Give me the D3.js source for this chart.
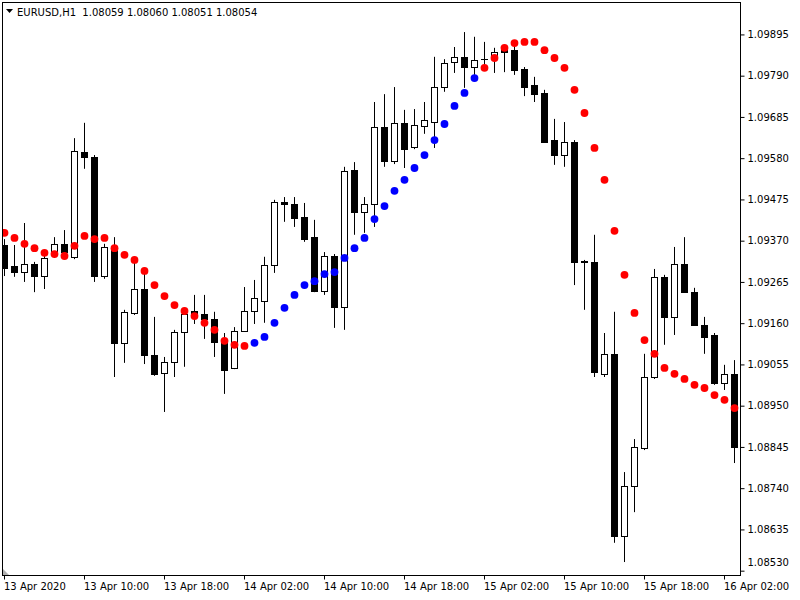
<!DOCTYPE html>
<html><head><meta charset="utf-8">
<script src="https://cdn.jsdelivr.net/npm/d3@7/dist/d3.min.js"></script>
<style>
body{margin:0;background:#fff}
svg{display:block}
text{font-family:"DejaVu Sans",sans-serif;font-size:10px;fill:#000}
</style>
</head><body>
<svg id="chart" width="800" height="600"></svg>
<script>
const title = "EURUSD,H1  1.08059 1.08060 1.08051 1.08054";

const opens = [
1.09359,1.09306,1.09290,1.09311,1.09280,1.09344,1.09362,1.09329,1.09596,1.09583,
1.09280,1.09351,1.09110,1.09186,1.09247,1.09079,1.09033,1.09061,1.09138,1.09191,
1.09183,1.09171,1.09112,1.09046,1.09140,1.09191,1.09217,1.09308,1.09469,1.09463,
1.09430,1.09379,1.09242,1.09331,1.09201,1.09550,1.09443,1.09463,1.09659,1.09573,
1.09670,1.09609,1.09662,1.09672,1.09761,1.09825,1.09838,1.09812,1.09832,1.09843,
1.09855,1.09855,1.09807,1.09766,1.09746,1.09626,1.09588,1.09621,1.09318,1.09316,
1.09031,1.09082,1.08618,1.08746,1.08842,1.09023,1.09278,1.09176,1.09311,1.09239,
1.09155,1.09130,1.09008,1.09031];

const highs = [
1.09374,1.09359,1.09415,1.09316,1.09339,1.09379,1.09397,1.09631,1.09670,1.09588,
1.09362,1.09379,1.09194,1.09329,1.09288,1.09176,1.09074,1.09143,1.09196,1.09232,
1.09232,1.09189,1.09135,1.09150,1.09252,1.09270,1.09329,1.09474,1.09481,1.09481,
1.09466,1.09423,1.09341,1.09336,1.09558,1.09570,1.09481,1.09723,1.09743,1.09761,
1.09703,1.09705,1.09723,1.09838,1.09832,1.09863,1.09901,1.09889,1.09876,1.09861,
1.09868,1.09868,1.09812,1.09787,1.09754,1.09680,1.09672,1.09626,1.09321,1.09385,
1.09135,1.09189,1.08781,1.08865,1.09082,1.09298,1.09283,1.09354,1.09379,1.09250,
1.09176,1.09135,1.09054,1.09066];

const lows = [
1.09280,1.09278,1.09265,1.09239,1.09247,1.09326,1.09329,1.09323,1.09553,1.09265,
1.09273,1.09023,1.09059,1.09181,1.09056,1.09026,1.08934,1.09023,1.09049,1.09158,
1.09120,1.09074,1.08980,1.09043,1.09138,1.09158,1.09161,1.09288,1.09418,1.09405,
1.09367,1.09239,1.09232,1.09148,1.09143,1.09385,1.09390,1.09405,1.09558,1.09565,
1.09555,1.09603,1.09642,1.09606,1.09749,1.09797,1.09759,1.09792,1.09817,1.09797,
1.09799,1.09792,1.09738,1.09723,1.09619,1.09563,1.09558,1.09257,1.09194,1.09023,
1.09023,1.08601,1.08552,1.08679,1.08837,1.09018,1.09105,1.09130,1.09237,1.09153,
1.09082,1.09003,1.08990,1.08804];

const closes = [
1.09301,1.09290,1.09311,1.09280,1.09326,1.09362,1.09341,1.09598,1.09583,1.09280,
1.09354,1.09110,1.09189,1.09247,1.09079,1.09031,1.09061,1.09138,1.09183,1.09181,
1.09171,1.09112,1.09041,1.09140,1.09191,1.09224,1.09308,1.09469,1.09463,1.09428,
1.09374,1.09242,1.09331,1.09201,1.09547,1.09443,1.09463,1.09659,1.09573,1.09670,
1.09603,1.09665,1.09677,1.09761,1.09822,1.09838,1.09812,1.09830,1.09832,1.09850,
1.09850,1.09805,1.09761,1.09743,1.09621,1.09588,1.09621,1.09316,1.09316,1.09036,
1.09082,1.08618,1.08746,1.08845,1.09023,1.09278,1.09176,1.09311,1.09239,1.09155,
1.09125,1.09008,1.09031,1.08845];

const dotValues = [
1.09390,1.09377,1.09362,1.09351,1.09339,1.09336,1.09331,1.09357,1.09382,1.09374,
1.09377,1.09351,1.09334,1.09321,1.09293,1.09257,1.09229,1.09206,1.09191,1.09178,
1.09161,1.09143,1.09115,1.09105,1.09102,1.09110,1.09125,1.09161,1.09199,1.09232,
1.09257,1.09267,1.09285,1.09290,1.09326,1.09351,1.09377,1.09425,1.09458,1.09497,
1.09525,1.09555,1.09588,1.09626,1.09667,1.09713,1.09746,1.09784,1.09810,1.09835,
1.09861,1.09873,1.09876,1.09876,1.09855,1.09835,1.09810,1.09754,1.09695,1.09606,
1.09525,1.09395,1.09283,1.09186,1.09117,1.09082,1.09046,1.09031,1.09018,1.09003,
1.08995,1.08977,1.08965,1.08944];

const dotTrend = [
"R","R","R","R","R","R","R","R","R","R","R","R","R","R","R","R","R","R","R","R","R","R","R","R","R",
"B","B","B","B","B","B","B","B","B","B","B","B","B","B","B","B","B","B","B","B","B","B","B",
"R","R","R","R","R","R","R","R","R","R","R","R","R","R","R","R","R","R","R","R","R","R","R","R","R","R"];

const yTickValues = [1.08530,1.08635,1.08740,1.08845,1.08950,1.09055,1.09160,1.09265,1.09370,1.09475,1.09580,1.09685,1.09790,1.09895];
const xTickBars = [0,8,16,24,32,40,48,56,64,72];
const xTickLabels = ["13 Apr 2020","13 Apr 10:00","13 Apr 18:00","14 Apr 02:00","14 Apr 10:00","14 Apr 18:00","15 Apr 02:00","15 Apr 10:00","15 Apr 18:00","16 Apr 02:00"];

const bars = opens.map((o,i)=>({i,o,h:highs[i],l:lows[i],c:closes[i]}));

const L=2.5, T=2.5, R=740.5, B=575.5;
const svg = d3.select("#chart");
const x = d3.scaleLinear().domain([0, opens.length-1]).range([4, 734]);
const y = d3.scaleLinear().domain([1.08519, 1.09975]).range([575, 3]);

svg.append("defs").append("clipPath").attr("id","clip")
  .append("rect").attr("x",3).attr("y",3).attr("width",R-3).attr("height",B-3);

const plot = svg.append("g").attr("clip-path","url(#clip)");

// wicks
plot.append("g").selectAll("line").data(bars).join("line")
  .attr("x1",d=>Math.round(x(d.i))+0.5).attr("x2",d=>Math.round(x(d.i))+0.5)
  .attr("y1",d=>y(d.h)).attr("y2",d=>y(d.l))
  .attr("stroke","#000").attr("stroke-width",1);

// bodies
plot.append("g").selectAll("rect").data(bars).join("rect")
  .attr("x",d=>Math.round(x(d.i))-2.5)
  .attr("width",6)
  .attr("y",d=>Math.round(y(Math.max(d.o,d.c)))+0.5)
  .attr("height",d=>Math.max(0.01, Math.round(y(Math.min(d.o,d.c)))-Math.round(y(Math.max(d.o,d.c)))))
  .attr("fill",d=>d.c>d.o?"#fff":"#000")
  .attr("stroke","#000").attr("stroke-width",1);

// indicator dots
plot.append("g").selectAll("circle").data(dotValues).join("circle")
  .attr("cx",(d,i)=>Math.round(x(i))+0.5)
  .attr("cy",d=>y(d))
  .attr("r",3.9)
  .attr("fill",(d,i)=>dotTrend[i]==="B"?"#0000ff":"#ff0000");

// frame
svg.append("rect").attr("x",L).attr("y",T).attr("width",R-L).attr("height",B-T)
  .attr("fill","none").attr("stroke","#000").attr("stroke-width",1);

// bottom-left marker
svg.append("path").attr("d","M3,569 L3,575 L9,575 Z").attr("fill","#b0b0b0");

// y axis
const yAxis = svg.append("g").attr("transform",`translate(${R},0)`)
  .call(d3.axisRight(y).tickValues(yTickValues).tickSize(4).tickPadding(3).tickFormat(d3.format(".5f")));
yAxis.select(".domain").remove();
yAxis.selectAll("line").attr("stroke","#000");
yAxis.selectAll("text").attr("font-family","DejaVu Sans").attr("font-size",10).attr("fill","#000");
yAxis.selectAll(".tick").filter(d=>d===1.08530).select("text").attr("dy","-0.55em");

// x axis
const xAxis = svg.append("g").attr("transform",`translate(0,${B})`);
xTickBars.forEach((b,k)=>{
  const px = Math.round(x(b))+0.5;
  xAxis.append("line").attr("x1",px).attr("x2",px).attr("y1",0).attr("y2",4).attr("stroke","#000");
  xAxis.append("text").attr("x",px-0.5).attr("y",14).text(xTickLabels[k]);
});

// title
svg.append("path").attr("d","M6,9 L13,9 L9.5,13 Z").attr("fill","#000");
svg.append("text").attr("x",17).attr("y",16).attr("xml:space","preserve").style("white-space","pre").text(title);
</script>
</body></html>
